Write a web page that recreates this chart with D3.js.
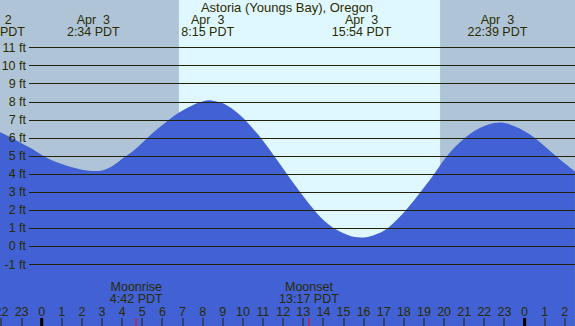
<!DOCTYPE html>
<html>
<head>
<meta charset="utf-8">
<script src="https://cdn.jsdelivr.net/npm/d3@7"></script>
<style>
  body { margin: 0; background: #fff; }
  svg { display: block; font-family: "Liberation Sans", Arial, sans-serif; }
  text { fill: #2b2b00; white-space: pre; }
</style>
</head>
<body>
<div id="chart"></div>
<script>
// chart size
var svgWidth = 575;
var svgHeight = 326;

// tide levels (hours from midnight Apr 3, feet)
var tideHours = [-2.1, -2, -1.5, -1, -0.5, 0, 0.5, 1, 1.5, 2, 2.5, 3, 3.5, 4, 4.5, 5, 5.5, 6, 6.5, 7, 7.5, 8, 8.25,
  8.5, 9, 9.5, 10, 10.5, 11, 11.5, 12, 12.5, 13, 13.5, 14, 14.5, 15, 15.5, 16, 16.5, 17, 17.5, 18, 18.5, 19, 19.5,
  20, 20.5, 21, 21.5, 22, 22.5, 23, 23.5, 24, 24.5, 25, 25.5, 26, 26.5];
var tideFeet = [6.32, 6.27, 5.98, 5.7, 5.4, 5.05, 4.76, 4.54, 4.36, 4.23, 4.16, 4.19, 4.42, 4.83, 5.22, 5.72, 6.25,
  6.71, 7.15, 7.51, 7.8, 8.0, 8.07, 8.05, 7.9, 7.57, 7.1, 6.5, 5.83, 5.07, 4.3, 3.51, 2.76, 2.06, 1.45, 1.01, 0.72,
  0.52, 0.48, 0.6, 0.85, 1.3, 1.87, 2.53, 3.25, 3.98, 4.78, 5.45, 5.96, 6.37, 6.65, 6.81, 6.82, 6.64, 6.36, 6.0, 5.53,
  5.04, 4.58, 4.15];

// high / low labels along the top
var extremeHours = [-2.32, 2.567, 8.25, 15.9, 22.65];
var extremeDates = ["Apr  2", "Apr  3", "Apr  3", "Apr  3", "Apr  3"];
var extremeTimes = ["21:41 PDT", "2:34 PDT", "8:15 PDT", "15:54 PDT", "22:39 PDT"];

// sunrise / sunset (hours)
var sunrise = 6.82;
var sunset = 19.8;

// moon events
var moonHours = [4.7, 13.283];
var moonNames = ["Moonrise", "Moonset"];
var moonTimes = ["4:42 PDT", "13:17 PDT"];

// feet gridlines and hour ticks
var feetTicks = [-1, 0, 1, 2, 3, 4, 5, 6, 7, 8, 9, 10, 11];
var hourTicks = d3.range(-2, 27);

var title = "Astoria (Youngs Bay), Oregon";

var svg = d3.select("#chart").append("svg")
  .attr("width", svgWidth)
  .attr("height", svgHeight);

var x = d3.scaleLinear().domain([0, 24]).range([41.7, 524.6]);
var y = d3.scaleLinear().domain([-1, 11]).range([264.3, 47.3]);

// night background, then daylight band
svg.append("rect")
  .attr("width", svgWidth).attr("height", svgHeight)
  .attr("fill", "#b0c4d8");
svg.append("rect")
  .attr("x", x(sunrise)).attr("y", 0)
  .attr("width", x(sunset) - x(sunrise)).attr("height", svgHeight)
  .attr("fill", "#dff8ff");

// water area
var tide = tideHours.map((h, i) => ({h: h, ft: tideFeet[i]}));
var area = d3.area()
  .x(d => x(d.h))
  .y0(svgHeight)
  .y1(d => y(d.ft))
  .curve(d3.curveCatmullRom.alpha(0.5));
svg.append("path")
  .datum(tide)
  .attr("d", area)
  .attr("fill", "#4161d4");

// gridlines + feet labels
svg.selectAll("line.grid")
  .data(feetTicks)
  .enter().append("line")
  .attr("class", "grid")
  .attr("x1", 29).attr("x2", svgWidth)
  .attr("y1", d => Math.round(y(d)) + 0.5)
  .attr("y2", d => Math.round(y(d)) + 0.5)
  .attr("stroke", "#22220a")
  .attr("stroke-width", 1.2);

svg.selectAll("text.ft")
  .data(feetTicks)
  .enter().append("text")
  .attr("class", "ft")
  .attr("x", 26)
  .attr("y", d => y(d) + 4.2)
  .attr("text-anchor", "end")
  .style("font-size", "12.5px")
  .text(d => d + " ft");

// title
svg.append("text")
  .attr("x", 287).attr("y", 12)
  .attr("text-anchor", "middle")
  .style("font-size", "13px")
  .text(title);

// extreme labels
extremeHours.forEach(function(h, i) {
  svg.append("text")
    .attr("x", x(h)).attr("y", 24)
    .attr("text-anchor", "middle")
    .style("font-size", "12.5px")
    .text(extremeDates[i]);
  svg.append("text")
    .attr("x", x(h)).attr("y", 36)
    .attr("text-anchor", "middle")
    .style("font-size", "12.5px")
    .text(extremeTimes[i]);
});

// hour ticks along the bottom
svg.selectAll("text.hr")
  .data(hourTicks)
  .enter().append("text")
  .attr("class", "hr")
  .attr("x", d => x(d))
  .attr("y", 316)
  .attr("text-anchor", "middle")
  .style("font-size", "12.5px")
  .text(d => ((d % 24) + 24) % 24);

svg.selectAll("rect.tick")
  .data(hourTicks)
  .enter().append("rect")
  .attr("class", "tick")
  .attr("x", d => (d % 24 === 0 ? x(d) - 1.5 : Math.round(x(d)) - 0.5))
  .attr("y", 318)
  .attr("width", d => (d % 24 === 0 ? 3 : 1))
  .attr("height", 8)
  .attr("fill", d => (d % 24 === 0 ? "#000" : "#22220a"));

// moonrise / moonset
moonHours.forEach(function(h, i) {
  svg.append("text")
    .attr("x", x(h)).attr("y", 291)
    .attr("text-anchor", "middle")
    .style("font-size", "12.5px")
    .text(moonNames[i]);
  svg.append("text")
    .attr("x", x(h)).attr("y", 302.5)
    .attr("text-anchor", "middle")
    .style("font-size", "12.5px")
    .text(moonTimes[i]);
  svg.append("rect")
    .attr("x", Math.round(x(h)) - 0.5).attr("y", 318)
    .attr("width", 1).attr("height", 8)
    .attr("fill", "#ff0000");
});
</script>
</body>
</html>
